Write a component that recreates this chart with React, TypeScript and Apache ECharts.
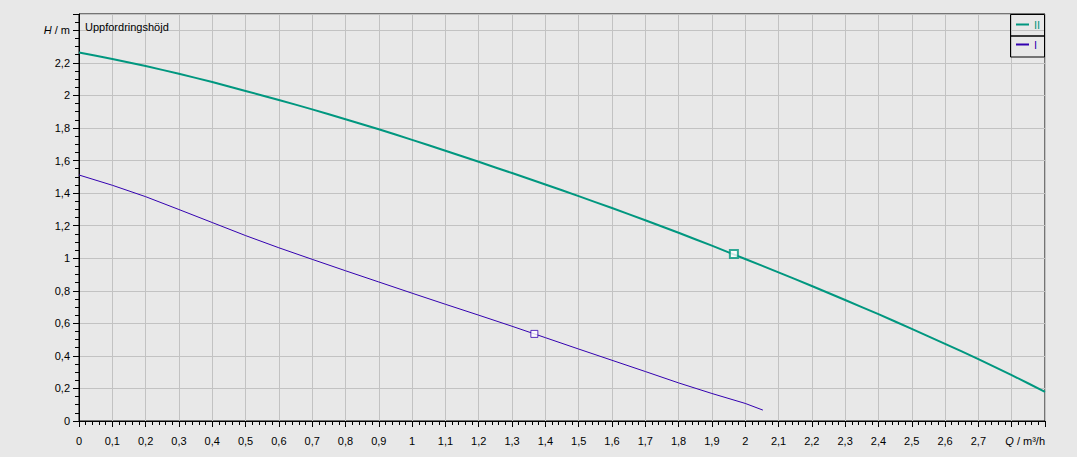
import React, { useEffect, useRef } from "react";
import * as echarts from "echarts";

const flowII = [0, 0.1, 0.2, 0.3, 0.4, 0.5, 0.6, 0.7, 0.8, 0.9, 1.0, 1.1, 1.2, 1.3, 1.4, 1.5, 1.6, 1.7, 1.8, 1.9, 2.0, 2.1, 2.2, 2.3, 2.4, 2.5, 2.6, 2.7, 2.8, 2.9];
const headII = [2.263, 2.224, 2.18, 2.133, 2.082, 2.027, 1.972, 1.914, 1.854, 1.792, 1.727, 1.66, 1.592, 1.523, 1.453, 1.381, 1.308, 1.233, 1.156, 1.077, 0.995, 0.913, 0.829, 0.743, 0.656, 0.566, 0.474, 0.38, 0.282, 0.179];

const flowI = [0, 0.1, 0.2, 0.3, 0.4, 0.5, 0.6, 0.7, 0.8, 0.9, 1.0, 1.1, 1.2, 1.3, 1.4, 1.5, 1.6, 1.7, 1.8, 1.9, 2.0, 2.053];
const headI = [1.511, 1.448, 1.378, 1.299, 1.219, 1.139, 1.064, 0.993, 0.923, 0.854, 0.785, 0.717, 0.65, 0.582, 0.512, 0.442, 0.373, 0.304, 0.234, 0.169, 0.108, 0.067];

const pointII = [1.966, 1.026];
const pointI = [1.367, 0.535];

const seriesNames = ["II", "I"];
const yTitle = "Uppfordringshöjd";
const xUnitLabel = "{i|Q} / m³/h";
const yUnitLabel = "{i|H} / m";

const TEAL = "#00977f";
const PURPLE = "#3300b0";
const FONT = "Liberation Sans";

function fmt(v: number): string {
  const r = Math.round(v * 10) / 10;
  return String(r).replace(".", ",");
}

export default function App() {
  const ref = useRef<HTMLDivElement>(null);
  useEffect(() => {
    if (!ref.current) return;
    const chart = echarts.init(ref.current, null, { renderer: "svg" });
    const zip = (xs: number[], ys: number[]) => xs.map((x, i) => [x, ys[i]]);
    chart.setOption({
      animation: false,
      backgroundColor: "#e8e8e8",
      textStyle: { fontFamily: FONT },
      grid: {
        left: 79,
        right: 32,
        top: 14,
        bottom: 36,
        show: true,
        borderColor: "#000",
        borderWidth: 1,
        backgroundColor: "transparent",
        outerBoundsMode: "none",
      },
      legend: {
        data: [
          { name: seriesNames[0], textStyle: { color: TEAL } },
          { name: seriesNames[1], textStyle: { color: PURPLE } },
        ],
        orient: "vertical",
        left: 1016,
        top: 19,
        padding: 0,
        itemGap: 9,
        itemWidth: 13,
        itemHeight: 2,
        icon: "rect",
        textStyle: { fontSize: 11, fontFamily: FONT },
      },
      xAxis: {
        type: "value",
        min: 0,
        max: 2.9,
        interval: 0.1,
        axisLine: { show: true, lineStyle: { color: "#000", width: 1 } },
        axisTick: { show: true, length: 6, lineStyle: { color: "#000" } },
        minorTick: { show: true, splitNumber: 5, length: 4, lineStyle: { color: "#000" } },
        splitLine: { show: true, lineStyle: { color: "#c2c2c2", width: 1 } },
        axisLabel: {
          margin: 14,
          fontSize: 11,
          color: "#000",
          fontFamily: FONT,
          showMaxLabel: true,
          showMinLabel: true,
          hideOverlap: false,
          alignMaxLabel: "right",
          formatter: (v: number) => (Math.abs(v - 2.9) < 1e-6 ? xUnitLabel : fmt(v)),
          rich: { i: { fontStyle: "italic", fontSize: 11, fontFamily: FONT, color: "#000" } },
        },
      },
      yAxis: {
        type: "value",
        min: 0,
        max: 2.5,
        interval: 0.2,
        axisLine: { show: true, lineStyle: { color: "#000", width: 1 } },
        axisTick: { show: true, length: 6, lineStyle: { color: "#000" } },
        minorTick: { show: true, splitNumber: 4, length: 4, lineStyle: { color: "#000" } },
        splitLine: { show: true, lineStyle: { color: "#c2c2c2", width: 1 } },
        axisLabel: {
          margin: 9,
          fontSize: 11,
          color: "#000",
          fontFamily: FONT,
          formatter: (v: number) => {
            if (Math.abs(v - 2.5) < 1e-6) return "";
            if (Math.abs(v - 2.4) < 1e-6) return yUnitLabel;
            return fmt(v);
          },
          rich: { i: { fontStyle: "italic", fontSize: 11, fontFamily: FONT, color: "#000" } },
        },
      },
      graphic: [
        {
          type: "text",
          x: 85,
          y: 27,
          style: {
            text: yTitle,
            fontSize: 11,
            fontFamily: FONT,
            fill: "#000",
            verticalAlign: "middle",
            align: "left",
          },
          z: 10,
        },
        {
          type: "rect",
          shape: { x: 1010.5, y: 14.5, width: 34, height: 21.5 },
          style: { fill: "none", stroke: "#000", lineWidth: 1 },
          z: 10,
        },
        {
          type: "rect",
          shape: { x: 1010.5, y: 36, width: 34, height: 21 },
          style: { fill: "none", stroke: "#000", lineWidth: 1 },
          z: 10,
        },
      ],
      series: [
        {
          name: seriesNames[0],
          type: "line",
          data: zip(flowII, headII),
          showSymbol: false,
          smooth: 0.15,
          color: TEAL,
          lineStyle: { color: TEAL, width: 2 },
          z: 3,
        },
        {
          name: seriesNames[1],
          type: "line",
          data: zip(flowI, headI),
          showSymbol: false,
          smooth: false,
          color: PURPLE,
          lineStyle: { color: PURPLE, width: 1 },
          z: 3,
        },
        {
          name: "II-point",
          type: "scatter",
          data: [pointII],
          symbol: "rect",
          symbolSize: 8,
          itemStyle: { color: "#ffffff", borderColor: TEAL, borderWidth: 2 },
          z: 5,
        },
        {
          name: "I-point",
          type: "scatter",
          data: [pointI],
          symbol: "rect",
          symbolSize: 7,
          itemStyle: { color: "#ffffff", borderColor: PURPLE, borderWidth: 1 },
          z: 5,
        },
      ],
    });
    return () => chart.dispose();
  }, []);
  return (
    <div
      ref={ref}
      style={{ position: "fixed", left: 0, top: 0, width: 1077, height: 457 }}
    />
  );
}
